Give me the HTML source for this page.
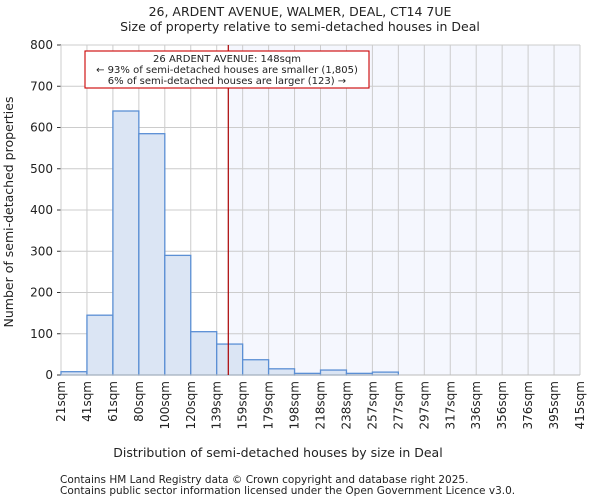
<!DOCTYPE html>
<html><head><meta charset="utf-8"><style>
body{margin:0;background:#fff;font-family:"DejaVu Sans","Liberation Sans",sans-serif;}
svg text{font-family:"DejaVu Sans","Liberation Sans",sans-serif;fill:#222;}
</style></head><body>
<svg id="c" width="600" height="500" xmlns="http://www.w3.org/2000/svg"></svg>
<script>
const labels=["21sqm","41sqm","61sqm","80sqm","100sqm","120sqm","139sqm","159sqm","179sqm","198sqm","218sqm","238sqm","257sqm","277sqm","297sqm","317sqm","336sqm","356sqm","376sqm","395sqm","415sqm"];
const counts=[8,145,640,585,290,105,75,37,15,4,12,4,7,0,0,0,0,0,0,0];
const yTicks=[0,100,200,300,400,500,600,700,800];
const marker=148;
const binStart=21, binW=19.7;
const L=61,R=580,T=45,B=375;
const nb=counts.length;
const xs=i=>L+(R-L)*i/nb;
const xv=v=>L+(R-L)*(v-binStart)/(binW*nb);
const y=v=>B-(B-T)*v/800;
const svg=document.getElementById('c');
const NS="http://www.w3.org/2000/svg";
function mk(t,a,p){const e=document.createElementNS(NS,t);for(const k in a)e.setAttribute(k,a[k]);(p||svg).appendChild(e);return e;}
let e;
e=mk('text',{x:300,y:16,'text-anchor':'middle','font-size':12.5});e.textContent="26, ARDENT AVENUE, WALMER, DEAL, CT14 7UE";


e=mk('text',{x:300,y:31,'text-anchor':'middle','font-size':12.5});e.textContent="Size of property relative to semi-detached houses in Deal";


const mx=xv(marker);
e=mk('rect',{x:mx,y:T,width:R-mx,height:B-T,fill:'#f5f7fe'});


yTicks.forEach(t=>{mk('line',{x1:L,x2:R,y1:y(t),y2:y(t),stroke:'#ccc','stroke-width':1});
 e=mk('line',{x1:L-4,x2:L,y1:y(t),y2:y(t),stroke:'#333'});
 e=mk('text',{x:L-8,y:y(t)+4,'text-anchor':'end','font-size':12});e.textContent=t;
 
 });
labels.forEach((l,i)=>{mk('line',{x1:xs(i),x2:xs(i),y1:T,y2:B,stroke:'#ccc','stroke-width':1});
 e=mk('text',{transform:`translate(${xs(i)+4},${B+6}) rotate(-90)`,'text-anchor':'end','font-size':12});e.textContent=l;
 
 });
counts.forEach((c,i)=>{e=mk('rect',{x:xs(i),y:y(c),width:xs(i+1)-xs(i),height:B-y(c),fill:'#dbe5f4',stroke:'#5b8fd4','stroke-width':1.3});
 
 });
mk('line',{x1:L,x2:R,y1:B,y2:B,stroke:'#bbb'});
e=mk('line',{x1:mx,x2:mx,y1:T,y2:B,stroke:'#a00','stroke-width':1.2});


const g=mk('g',{});


mk('rect',{x:85,y:51,width:284,height:37,fill:'#fff',stroke:'#c00','stroke-width':1.1},g);
["26 ARDENT AVENUE: 148sqm","← 93% of semi-detached houses are smaller (1,805)","6% of semi-detached houses are larger (123) →"].forEach((s,i)=>{
 e=mk('text',{x:227,y:62+i*11,'text-anchor':'middle','font-size':10},g);e.textContent=s;});
e=mk('text',{x:278,y:457,'text-anchor':'middle','font-size':12.5});e.textContent="Distribution of semi-detached houses by size in Deal";


e=mk('text',{transform:'translate(13,212) rotate(-90)','text-anchor':'middle','font-size':12.5});e.textContent="Number of semi-detached properties";


e=mk('text',{x:60,y:483,'font-size':10.5,fill:'#444'});e.textContent="Contains HM Land Registry data © Crown copyright and database right 2025.";


e=mk('text',{x:60,y:494,'font-size':10.5});e.textContent="Contains public sector information licensed under the Open Government Licence v3.0.";


</script>
</body></html>
